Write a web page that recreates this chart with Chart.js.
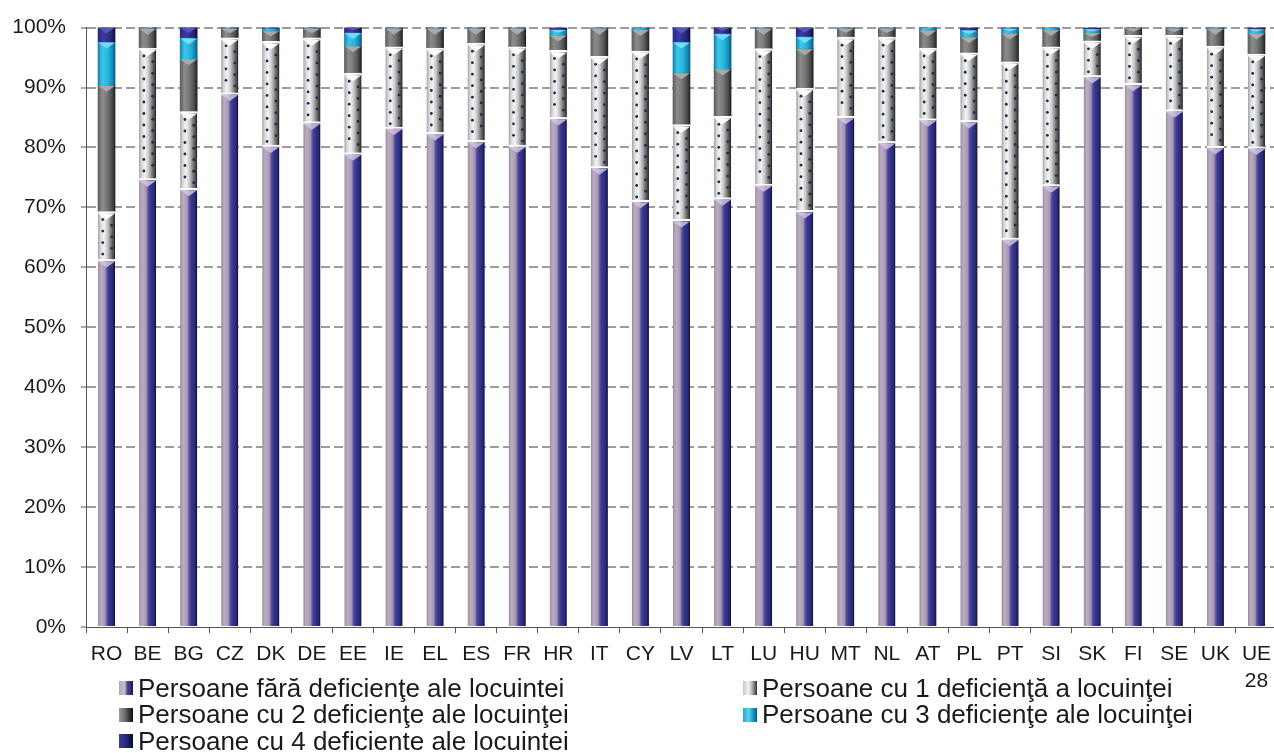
<!DOCTYPE html>
<html><head><meta charset="utf-8">
<script src="https://cdn.jsdelivr.net/npm/chart.js@4/dist/chart.umd.min.js"></script>
<style>
html,body{margin:0;padding:0;background:#fff;overflow:hidden;}
#wrap{position:relative;width:1274px;height:753px;overflow:hidden;background:#fff;}
#c{position:absolute;left:0;top:0;}
.lg{position:absolute;display:flex;align-items:center;height:26px;font:26px 'Liberation Sans',Arial,sans-serif;color:#1a1a1a;white-space:nowrap;}
.sw{width:14px;height:14px;margin-right:5px;flex:none;}
</style></head><body>
<div id="wrap"><canvas id="c" width="1280" height="753"></canvas><div id="legend"></div></div>
<script>
// ---- data (percent of persons) ----
const categories = ['RO','BE','BG','CZ','DK','DE','EE','IE','EL','ES','FR','HR','IT','CY','LV','LT','LU','HU','MT','NL','AT','PL','PT','SI','SK','FI','SE','UK','UE 28'];
const noDeficiency   = [61.3,74.8,73.2,89.1,80.4,84.3,79.1,83.4,82.5,81.2,80.4,85.0,76.8,71.2,68.0,71.6,73.9,69.5,85.2,81.0,84.8,84.5,64.9,73.8,92.0,90.7,86.3,80.2,80.1];
const oneDeficiency  = [8.0,21.8,12.8,9.2,17.3,14.0,13.3,13.4,14.1,16.2,16.4,11.2,18.4,24.9,15.8,13.6,22.6,20.4,13.2,17.4,11.8,11.3,29.4,23.0,5.8,8.0,12.4,16.7,15.5];
const twoDeficiency  = [21.0,3.2,8.7,1.5,1.7,1.5,4.5,3.0,3.2,2.4,3.0,2.5,4.6,3.5,8.6,7.8,3.3,6.5,1.4,1.4,2.9,2.6,4.7,2.8,1.3,1.2,1.1,2.9,3.4];
const threeDeficiency= [7.2,0.1,3.5,0.1,0.4,0.1,2.2,0.1,0.1,0.1,0.1,0.9,0.1,0.3,5.1,5.9,0.1,2.0,0.1,0.1,0.4,1.1,0.8,0.3,0.6,0.0,0.1,0.1,0.7];
const fourDeficiency = [2.5,0.1,1.8,0.1,0.2,0.1,0.9,0.1,0.1,0.1,0.1,0.4,0.1,0.1,2.5,1.1,0.1,1.6,0.1,0.1,0.1,0.5,0.2,0.1,0.3,0.1,0.1,0.1,0.3];
const seriesLabels = [
  'Persoane fără deficienţe ale locuintei',
  'Persoane cu 1 deficienţă a locuinţei',
  'Persoane cu 2 deficienţe ale locuinţei',
  'Persoane cu 3 deficienţe ale locuinţei',
  'Persoane cu 4 deficiente ale locuintei'
];
const yTickLabels = ['0%','10%','20%','30%','40%','50%','60%','70%','80%','90%','100%'];

// ---- styles ----
const FONT = "'Liberation Sans', Arial, sans-serif";
const BAR_W = 17;
const STOPS = [
  [[0,'#9a8ca2'],[0.18,'#bcaec2'],[0.42,'#a696b2'],[0.52,'#5a56a4'],[0.62,'#3c3c94'],[0.86,'#2a2a76'],[1,'#121236']],
  [[0,'#a0a0a0'],[0.15,'#d8d8d8'],[0.35,'#f4f4f4'],[0.55,'#c8c8c8'],[0.72,'#8a8a8a'],[0.9,'#4a4a4a'],[1,'#1e1e1e']],
  [[0,'#5e5e5e'],[0.25,'#8c8c8c'],[0.5,'#7a7a7a'],[0.8,'#505050'],[1,'#222222']],
  [[0,'#1585ad'],[0.25,'#3ec6ea'],[0.6,'#25b4de'],[0.85,'#1688b4'],[1,'#0a5a80']],
  [[0,'#2a2a86'],[0.35,'#3a3aa2'],[0.75,'#28287c'],[1,'#101040']]
];
const BEVEL = ['rgba(215,200,230,0.8)','rgba(255,255,255,0.95)','rgba(175,175,175,0.9)','rgba(120,225,250,0.9)','rgba(90,90,190,0.9)'];
const SWATCH_CSS = [
  'linear-gradient(90deg,#b8a8c0 0%,#cabad2 40%,#4a4a9a 60%,#1c1c50 100%)',
  'linear-gradient(90deg,#c8c8c8 0%,#f4f4f4 40%,#a0a0a0 70%,#303030 100%)',
  'linear-gradient(90deg,#9a9a9a 0%,#6a6a6a 45%,#3a3a3a 70%,#111 100%)',
  'linear-gradient(90deg,#2aa6cc 0%,#5ad2f2 40%,#1c9cc8 70%,#0a5a80 100%)',
  'linear-gradient(90deg,#3a3aa0 0%,#2a2a86 45%,#1a1a5a 70%,#0c0c30 100%)'
];

function grad(chart, i, stops) {
  const xs = chart.scales.x;
  if (!xs || !chart.chartArea) return stops[1][1];
  const x = xs.getPixelForValue(i);
  const g = chart.ctx.createLinearGradient(x - BAR_W / 2, 0, x + BAR_W / 2, 0);
  stops.forEach(([o, c]) => g.addColorStop(o, c));
  return g;
}

const seriesData = [noDeficiency, oneDeficiency, twoDeficiency, threeDeficiency, fourDeficiency];
const datasets = seriesData.map((d, k) => ({
  label: seriesLabels[k],
  data: d,
  backgroundColor: (c) => grad(c.chart, c.dataIndex, STOPS[k]),
  borderColor: '#ffffff',
  borderWidth: k <= 1 ? {top: 2, left: 0, right: 0, bottom: 0} : 0,
  borderSkipped: 'start',
  barThickness: BAR_W
}));

const decor = {
  id: 'decor',
  afterDatasetsDraw(chart) {
    const ctx = chart.ctx;
    const ca = chart.chartArea;
    ctx.save();
    ctx.beginPath();
    ctx.rect(ca.left, ca.top - 1, ca.right - ca.left, ca.bottom - ca.top + 1);
    ctx.clip();
    chart.data.datasets.forEach((ds, di) => {
      const meta = chart.getDatasetMeta(di);
      meta.data.forEach((bar) => {
        const p = bar.getProps(['x', 'y', 'base', 'width'], true);
        const h = p.base - p.y;
        if (h < 3) return;
        const l = p.x - p.width / 2, r = p.x + p.width / 2;
        const top = p.y + (di <= 1 ? 2 : 0);
        ctx.fillStyle = BEVEL[di];
        ctx.beginPath();
        ctx.moveTo(l, top);
        ctx.lineTo(r, top);
        ctx.lineTo(p.x, top + Math.min(6, h / 2));
        ctx.closePath();
        ctx.fill();
        if (di === 1) {
          ctx.fillStyle = '#1b2b4b';
          for (let yy = p.y + 8; yy < p.base - 3; yy += 11.5) {
            ctx.beginPath(); ctx.arc(l + p.width * 0.28, yy, 1.4, 0, Math.PI * 2); ctx.fill();
            if (yy + 5.75 < p.base - 3) {
              ctx.beginPath(); ctx.arc(l + p.width * 0.8, yy + 5.75, 1.4, 0, Math.PI * 2); ctx.fill();
            }
          }
        }
      });
    });
    ctx.restore();
  }
};

new Chart(document.getElementById('c'), {
  type: 'bar',
  data: { labels: categories.map(c => c.split(' ')), datasets },
  plugins: [decor],
  options: {
    responsive: false,
    animation: false,
    devicePixelRatio: 1,
    layout: { padding: { top: 24, left: 0, right: 3, bottom: 0 } },
    plugins: { legend: { display: false }, tooltip: { enabled: false } },
    scales: {
      x: {
        stacked: true,
        afterFit: (s) => { s.height = 126; },
        grid: { drawOnChartArea: false, drawTicks: true, tickLength: 6, tickColor: '#555', tickWidth: 1, offset: true },
        border: { display: true, color: '#555', width: 1 },
        ticks: { autoSkip: false, maxRotation: 0, minRotation: 0, padding: 8, color: '#1a1a1a',
                 font: { family: FONT, size: 21, lineHeight: 1.27 } }
      },
      y: {
        stacked: true,
        min: 0, max: 100,
        afterFit: (s) => { s.width = 86; },
        afterBuildTicks: (s) => { s.ticks = yTickLabels.map((t, i) => ({ value: i * 10 })); },
        grid: {
          color: (c) => (c.tick && c.tick.value === 0) ? 'rgba(0,0,0,0)' : '#9c9c9c',
          lineWidth: 2, drawTicks: true, tickLength: 5, tickColor: '#555', tickWidth: 1
        },
        border: { display: true, color: '#555', width: 1, dash: [9, 4] },
        ticks: { padding: 15, color: '#1a1a1a', font: { family: FONT, size: 21 },
                 callback: (v) => yTickLabels[Math.round(v / 10)] }
      }
    }
  }
});

// ---- legend (HTML text) ----
const lg = document.getElementById('legend');
const colX = [119, 743];
const rowTop = [675, 701.5, 728];
seriesLabels.forEach((t, i) => {
  const d = document.createElement('div');
  d.className = 'lg';
  d.style.left = colX[i % 2] + 'px';
  d.style.top = rowTop[Math.floor(i / 2)] + 'px';
  const sw = document.createElement('span');
  sw.className = 'sw';
  sw.style.background = SWATCH_CSS[i];
  const tx = document.createElement('span');
  tx.textContent = t;
  d.appendChild(sw); d.appendChild(tx);
  lg.appendChild(d);
});
</script>
</body></html>
